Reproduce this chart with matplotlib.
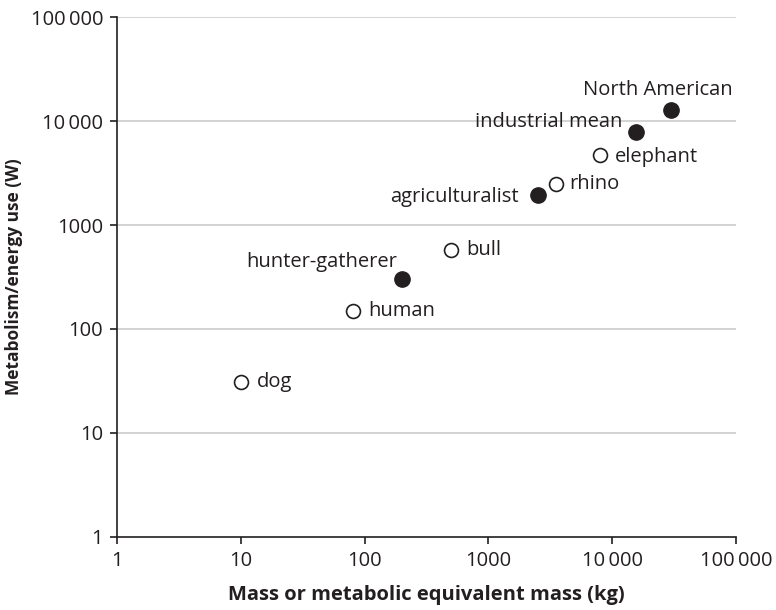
import numpy as np
import matplotlib
matplotlib.use("Agg")
import matplotlib.pyplot as plt
from matplotlib.ticker import FixedLocator, FuncFormatter

plt.rcParams['font.family'] = ['Open Sans', 'DejaVu Sans']

# animals (open markers)
animalNames = ["dog", "human", "bull", "rhino", "elephant"]
animalMass = [10, 80, 500, 3500, 8000]
animalPower = [31, 150, 580, 2500, 4700]

# human societies (filled markers)
societyNames = ["hunter-gatherer", "agriculturalist", "industrial mean", "North American"]
societyMass = [200, 2500, 15500, 30000]
societyPower = [300, 1950, 7900, 12700]

decades = [1, 10, 100, 1000, 10000, 100000]

# label placement (pixels offset, horizontal alignment)
animalLabelPos = [((16, 0), 'left'), ((16, 0), 'left'), ((15, 0), 'left'),
                  ((13, 0), 'left'), ((15, -2), 'left')]
societyLabelPos = [((-5, 17), 'right'), ((-19, -2), 'right'),
                   ((-13, 10), 'right'), ((61, 20), 'right')]


def fmtTick(v, pos):
    s = "{:,}".format(int(round(v)))
    if v >= 10000:
        return s.replace(",", "\u2009")
    return s.replace(",", "")


fig = plt.figure(figsize=(7.76, 6.10), dpi=100)
ax = fig.add_axes([0.1508, 0.1197, 0.7977, 0.8524])

ax.set_xscale('log')
ax.set_yscale('log')
ax.set_xlim(1, 100000)
ax.set_ylim(1, 100000)

ax.xaxis.set_major_locator(FixedLocator(decades))
ax.yaxis.set_major_locator(FixedLocator(decades))
ax.xaxis.set_minor_locator(FixedLocator([]))
ax.yaxis.set_minor_locator(FixedLocator([]))
ax.xaxis.set_major_formatter(FuncFormatter(fmtTick))
ax.yaxis.set_major_formatter(FuncFormatter(fmtTick))

for v in decades[1:]:
    ax.axhline(v, color='#c8c8c8', lw=1.1, zorder=0)

for side in ['top', 'right']:
    ax.spines[side].set_visible(False)
ax.spines['left'].set_color('#231f20')
ax.spines['bottom'].set_color('#231f20')
ax.spines['left'].set_linewidth(1.2)
ax.spines['bottom'].set_linewidth(1.2)
ax.tick_params(axis='both', direction='out', length=5, width=1.2, color='#231f20',
               labelsize=14.5, labelcolor='#231f20', pad=5)

ax.plot(animalMass, animalPower, 'o', ms=10, mfc='white', mec='#231f20', mew=1.2,
        linestyle='none', zorder=3)
ax.plot(societyMass, societyPower, 'o', ms=11, mfc='#231f20', mec='#231f20',
        linestyle='none', zorder=3)

for name, x, y, (off, ha) in zip(animalNames, animalMass, animalPower, animalLabelPos):
    ax.annotate(name, (x, y), xytext=off, textcoords='offset pixels',
                ha=ha, va='center', fontsize=14.5, color='#231f20')
for name, x, y, (off, ha) in zip(societyNames, societyMass, societyPower, societyLabelPos):
    ax.annotate(name, (x, y), xytext=off, textcoords='offset pixels',
                ha=ha, va='center', fontsize=14.5, color='#231f20')

ax.set_xlabel("Mass or metabolic equivalent mass (kg)", fontsize=14.5,
              fontweight='bold', color='#231f20', labelpad=10)
ax.set_ylabel("Metabolism/energy use (W)", fontsize=12.5,
              fontweight='bold', color='#231f20')
ax.yaxis.set_label_coords(-0.152, 0.5)

fig.savefig("out.png", dpi=100)
